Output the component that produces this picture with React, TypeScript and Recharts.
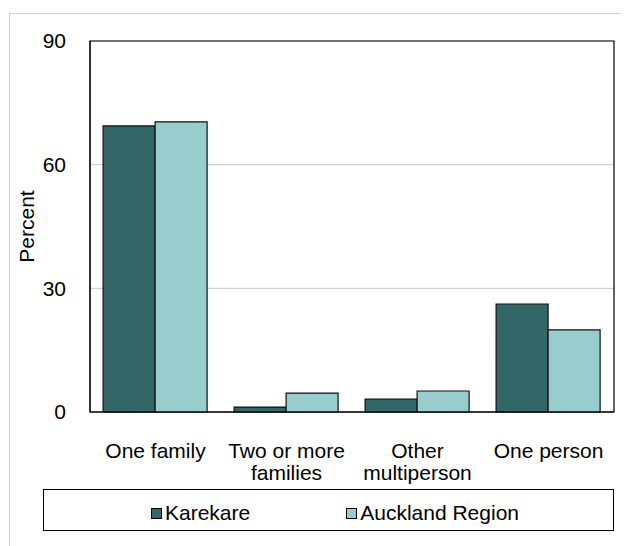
import { BarChart, Bar, XAxis, YAxis, CartesianGrid, ReferenceArea } from 'recharts';

const categories = ['One family', 'Two or more\nfamilies', 'Other\nmultiperson', 'One person'];
const karekare = [69.4, 1.2, 3.1, 26.2];
const auckland = [70.4, 4.6, 5.1, 19.9];
const yTicks = [0, 30, 60, 90];

const series = [
  { key: 'karekare', name: 'Karekare', color: '#336666' },
  { key: 'auckland', name: 'Auckland Region', color: '#99cccc' },
];

const data = categories.map((name, i) => ({
  name,
  karekare: karekare[i],
  auckland: auckland[i],
}));

const font = '"Liberation Sans", Arial, sans-serif';

function CategoryTick(props: any) {
  const { x, y, payload } = props;
  const lines = String(payload.value).split('\n');
  return (
    <text x={x} y={y} textAnchor="middle" fontSize={21} fontFamily={font} fill="#000">
      {lines.map((line, i) => (
        <tspan key={i} x={x} dy={i === 0 ? 15 : 22}>
          {line}
        </tspan>
      ))}
    </text>
  );
}

export default function App() {
  return (
    <div
      style={{
        position: 'relative',
        marginTop: 5,
        marginLeft: 1,
        width: 618,
        height: 532,
        borderTop: '1px solid #d0d0d0',
        borderLeft: '1px solid #d0d0d0',
        fontFamily: font,
      }}
    >
      <BarChart
        width={618}
        height={532}
        data={data}
        margin={{ top: 27, right: 14, left: 0, bottom: 64 }}
        barCategoryGap="10%"
        barGap={0}
      >
        <CartesianGrid vertical={false} stroke="#c8c8c8" />
        <XAxis
          dataKey="name"
          axisLine={{ stroke: '#000' }}
          tickLine={false}
          tickSize={0}
          tickMargin={31}
          height={70}
          interval={0}
          tick={<CategoryTick />}
        />
        <YAxis
          domain={[0, 90]}
          ticks={yTicks}
          width={80}
          axisLine={{ stroke: '#000' }}
          tickLine={false}
          tickSize={0}
          tickMargin={24}
          tick={{ fontSize: 21, fontFamily: font, fill: '#000' }}
          label={{
            value: 'Percent',
            angle: -90,
            position: 'insideLeft',
            offset: 17,
            style: { textAnchor: 'middle', fontSize: 21, fontFamily: font, fill: '#000' },
          }}
        />
        {series.map((s) => (
          <Bar
            key={s.key}
            dataKey={s.key}
            name={s.name}
            fill={s.color}
            stroke="#111"
            strokeWidth={1.2}
            isAnimationActive={false}
          />
        ))}
        <ReferenceArea y1={0} y2={90} fill="none" stroke="#000" strokeWidth={1.2} />
      </BarChart>
      <div
        style={{
          position: 'absolute',
          left: 33,
          top: 475,
          width: 571,
          height: 42,
          boxSizing: 'border-box',
          border: '1px solid #000',
          display: 'flex',
          alignItems: 'center',
          justifyContent: 'center',
          gap: 96,
          paddingLeft: 13,
          paddingTop: 6,
          fontSize: 21,
        }}
      >
        {series.map((s) => (
          <div key={s.key} style={{ display: 'flex', alignItems: 'center' }}>
            <span
              style={{
                display: 'inline-block',
                width: 9,
                height: 9,
                background: s.color,
                border: '1px solid #000',
                marginRight: 3,
              }}
            />
            <span>{s.name}</span>
          </div>
        ))}
      </div>
    </div>
  );
}
